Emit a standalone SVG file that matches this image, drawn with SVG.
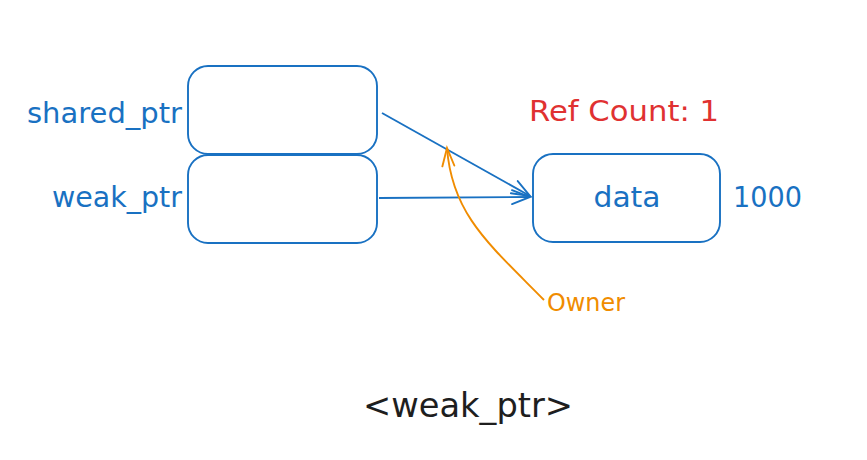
<svg xmlns="http://www.w3.org/2000/svg" width="867" height="460" viewBox="0 0 867 460">
<style>
.box{fill:none;stroke:#1971c2;stroke-width:1.9}
.blue{fill:#1971c2;font-family:"DejaVu Sans",sans-serif;font-size:28px}
.conn{fill:none;stroke:#1971c2;stroke-width:1.9}
.own{fill:none;stroke:#f08c00;stroke-width:1.9}
</style>
<defs>
<marker id="ab" markerUnits="userSpaceOnUse" markerWidth="30" markerHeight="30" refX="20" refY="10" orient="auto" viewBox="0 0 30 20">
<path d="M2 3 L20 10 L2 17" fill="none" stroke="#1971c2" stroke-width="1.9" stroke-linecap="round"/>
</marker>
<marker id="ao" markerUnits="userSpaceOnUse" markerWidth="30" markerHeight="30" refX="20" refY="10" orient="auto" viewBox="0 0 30 20">
<path d="M2 4 L20 10 L2 16" fill="none" stroke="#f08c00" stroke-width="1.9" stroke-linecap="round"/>
</marker>
</defs>
<rect width="867" height="460" fill="#ffffff"/>
<g id="connectors">
<path class="conn" d="M382 113 L530 196" marker-end="url(#ab)"/>
<path class="conn" d="M379 198 L530 197" marker-end="url(#ab)"/>
<path class="own" d="M544 300 C490 245 452 215 447 148" marker-end="url(#ao)"/>
</g>
<g id="shared_ptr">
<rect class="box" x="188" y="66" width="189" height="88" rx="20"/>
<text class="blue" x="182" y="123" text-anchor="end" textLength="155" lengthAdjust="spacingAndGlyphs">shared_ptr</text>
</g>
<g id="weak_ptr">
<rect class="box" x="188" y="155" width="189" height="88" rx="20"/>
<text class="blue" x="182" y="207" text-anchor="end" textLength="130" lengthAdjust="spacingAndGlyphs">weak_ptr</text>
</g>
<g id="data">
<rect class="box" x="533" y="154" width="187" height="88" rx="20"/>
<text class="blue" x="627" y="207" text-anchor="middle" textLength="67" lengthAdjust="spacingAndGlyphs">data</text>
<text class="blue" x="733" y="207" textLength="69" lengthAdjust="spacingAndGlyphs">1000</text>
</g>
<g id="refcount">
<text x="529" y="121" fill="#e03131" font-family="DejaVu Sans, sans-serif" font-size="28" textLength="190" lengthAdjust="spacingAndGlyphs">Ref Count: 1</text>
</g>
<g id="owner">
<text x="547" y="311" fill="#f08c00" font-family="DejaVu Sans, sans-serif" font-size="25" textLength="78" lengthAdjust="spacingAndGlyphs">Owner</text>
</g>
<g id="title">
<text x="363" y="417" fill="#1e1e1e" font-family="DejaVu Sans, sans-serif" font-size="34" textLength="210" lengthAdjust="spacingAndGlyphs">&lt;weak_ptr&gt;</text>
</g>
</svg>
